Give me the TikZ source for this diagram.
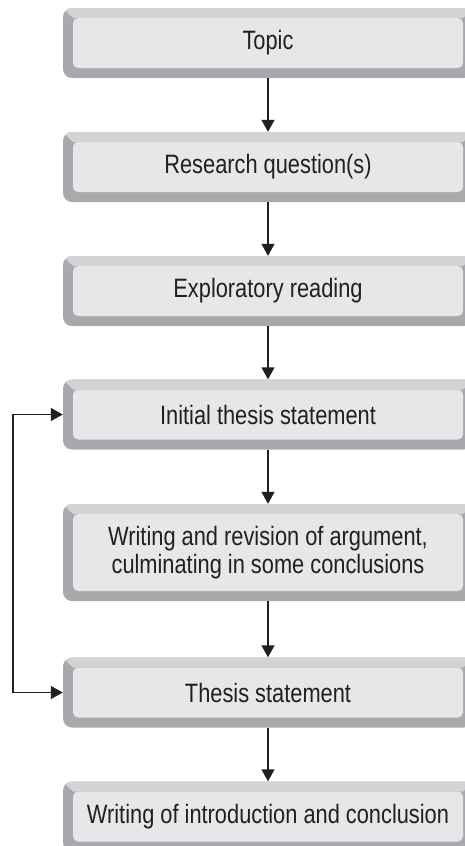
\documentclass[tikz,border=0pt]{standalone}
\usepackage{fontspec}
\setmainfont{Liberation Sans}[FakeStretch=0.82]
\usepackage{tikz}
\usetikzlibrary{arrows.meta}
\usetikzlibrary{positioning}
\usetikzlibrary{calc}
\definecolor{InkColor}{RGB}{35,31,32}
\definecolor{BevelDark}{RGB}{167,169,172}
\definecolor{BevelLight}{RGB}{209,211,212}
\definecolor{FaceColor}{RGB}{230,231,232}
\tikzstyle{arrow} = [line width=1.4pt, InkColor, -{Triangle[length=12pt, width=13pt]}]
\tikzstyle{stage} = [rounded corners=9pt, fill=BevelDark, minimum width=410pt, minimum height=70pt,
    text=InkColor, align=center, font=\fontsize{26.6}{28}\selectfont,
    path picture={
        \fill[BevelLight, sharp corners] (path picture bounding box.north west) -- (path picture bounding box.north east)
            -- ($(path picture bounding box.north east)+(-10pt,-10pt)$) -- ($(path picture bounding box.north west)+(10pt,-10pt)$) -- cycle;
        \fill[FaceColor, rounded corners=5pt] ($(path picture bounding box.north west)+(10pt,-10pt)$)
            rectangle ($(path picture bounding box.south east)+(-10pt,10pt)$);
    }]

\begin{document}
\begin{tikzpicture}[x=1pt, y=-1pt]
    \useasboundingbox (0,0) rectangle (464,846);

    % stages
    \node[stage] (topic) at (268,43) {Topic};
    \node[stage] (question) at (268,167) {Research question(s)};
    \node[stage] (reading) at (268,291) {Exploratory reading};
    \node[stage] (initthesis) at (268,414.5) {Initial thesis statement};
    \node[stage, minimum height=97pt] (writing) at (268,552.5) {Writing and revision of argument,\\culminating in some conclusions};
    \node[stage] (thesis) at (268,692.5) {Thesis statement};
    \node[stage] (intro) at (268,816.5) {Writing of introduction and conclusion};

    % flow
    \draw[arrow] (topic) -- (question);
    \draw[arrow] (question) -- (reading);
    \draw[arrow] (reading) -- (initthesis);
    \draw[arrow] (initthesis) -- (writing);
    \draw[arrow] (writing) -- (thesis);
    \draw[arrow] (thesis) -- (intro);

    % loop back
    \coordinate (loopx) at (13,0);
    \draw[arrow, {Triangle[length=12pt, width=13pt]}-{Triangle[length=12pt, width=13pt]}]
        (initthesis.west) -- (initthesis.west -| loopx) -- (thesis.west -| loopx) -- (thesis.west);
\end{tikzpicture}
\end{document}
